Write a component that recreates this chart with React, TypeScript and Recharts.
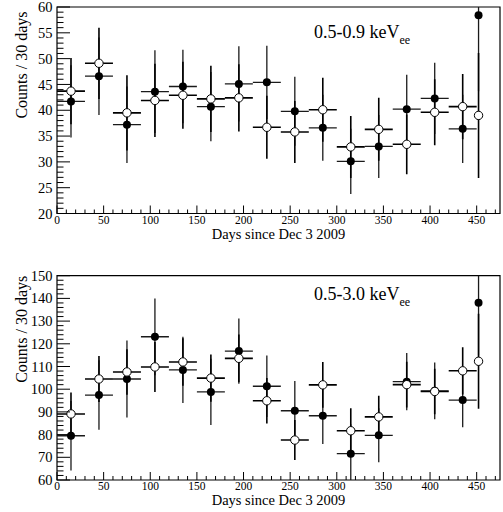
import { ComposedChart, ErrorBar, ReferenceArea, Scatter, XAxis, YAxis } from "recharts";

// bin centres (days since Dec 3 2009) and half bin widths
const days = [15, 45, 75, 105, 135, 165, 195, 225, 255, 285, 315, 345, 375, 405, 435, 452];
const dayHalfWidth = [15, 15, 15, 15, 15, 15, 15, 15, 15, 15, 15, 15, 15, 15, 15, 0];

// 0.5-0.9 keVee
const lowFilled = [41.7, 46.6, 37.2, 43.6, 44.6, 40.7, 45.1, 45.4, 39.8, 36.6, 30.1, 33.0, 40.2, 42.3, 36.4, 58.4];
const lowFilledErr = [7.0, 7.5, 7.4, 8.0, 7.1, 6.7, 7.3, 7.1, 6.7, 6.4, 6.3, 6.1, 6.7, 6.9, 6.6, 14.7];
const lowOpen = [43.7, 49.1, 39.5, 41.9, 42.9, 42.2, 42.4, 36.7, 35.8, 40.1, 32.9, 36.3, 33.4, 39.6, 40.7, 39.0];
const lowOpenErr = [6.4, 6.9, 7.3, 7.1, 6.5, 6.4, 6.5, 6.1, 6.0, 6.2, 6.0, 6.1, 5.8, 6.4, 6.3, 12.1];

// 0.5-3.0 keVee
const allFilled = [79.5, 97.4, 104.5, 123.1, 108.5, 98.8, 116.8, 101.3, 90.5, 88.3, 71.6, 79.7, 103.3, 99.3, 95.2, 138.1];
const allFilledErr = [15.3, 15.3, 17.0, 16.9, 14.6, 14.6, 14.4, 13.6, 13.1, 12.4, 13.0, 11.9, 12.6, 12.5, 12.0, 23.2];
const allOpen = [89.1, 104.5, 107.6, 109.8, 112.0, 104.9, 113.6, 94.9, 77.6, 101.9, 81.7, 87.8, 102.0, 99.0, 108.1, 112.3];
const allOpenErr = [9.5, 10.1, 10.0, 11.0, 10.5, 10.4, 10.5, 10.0, 8.8, 10.1, 9.9, 9.3, 10.1, 10.0, 10.4, 20.9];

const xMajorTicks = [0, 50, 100, 150, 200, 250, 300, 350, 400, 450];
const lowYTicks = [20, 25, 30, 35, 40, 45, 50, 55, 60];
const allYTicks = [60, 70, 80, 90, 100, 110, 120, 130, 140, 150];

const FONT = '"Liberation Serif", "DejaVu Serif", serif';
const X_GAP = 2;
const Y_GAP = 4.5;

// major ticks plus the minor subdivisions between them
function withMinor(major: number[], parts: number, extendTo?: number) {
  const step = (major[1] - major[0]) / parts;
  const end = extendTo ?? major[major.length - 1];
  const out: number[] = [];
  for (let v = major[0]; v <= end + 1e-9; v += step) out.push(Math.round(v * 100) / 100);
  return out;
}

function toPoints(y: number[], ey: number[]) {
  return days.map((x, i) => ({ x, ex: dayHalfWidth[i], y: y[i], ey: ey[i] }));
}

const FilledDot = (p: any) => <circle cx={p.cx} cy={p.cy} r={4} fill="#000" />;
const OpenDot = (p: any) => <circle cx={p.cx} cy={p.cy} r={4.2} fill="#fff" stroke="#000" strokeWidth={1} />;

function XTick(props: any) {
  const { x, y, payload } = props;
  const v = payload.value;
  const major = v % 50 === 0;
  const axisY = y - X_GAP;
  return (
    <g>
      <line x1={x} x2={x} y1={axisY} y2={axisY - (major ? 8 : 4)} stroke="#000" strokeWidth={1} />
      {major && (
        <text x={x} y={y} dy="0.71em" textAnchor="middle" fontFamily={FONT} fontSize={11.5} fill="#000">
          {v}
        </text>
      )}
    </g>
  );
}

function YTick(props: any) {
  const { x, y, payload, majorStep } = props;
  const v = payload.value;
  const major = Math.abs(v % majorStep) < 1e-6;
  const axisX = x + Y_GAP;
  return (
    <g>
      <line x1={axisX} x2={axisX + (major ? 13 : 6.5)} y1={y} y2={y} stroke="#000" strokeWidth={1} />
      {major && (
        <text x={x} y={y} dy="0.35em" textAnchor="end" fontFamily={FONT} fontSize={14.5} fill="#000">
          {v}
        </text>
      )}
    </g>
  );
}

type PanelProps = {
  id: string;
  filled: number[];
  filledErr: number[];
  open: number[];
  openErr: number[];
  yMajor: number[];
  yParts: number;
  range: string;
  marginTop: number;
  xAxisHeight: number;
  yTitleOffset: number;
  rangeOffset: number;
};

function Panel(p: PanelProps) {
  const filledPts = toPoints(p.filled, p.filledErr);
  const openPts = toPoints(p.open, p.openErr);
  const yMin = p.yMajor[0];
  const yMax = p.yMajor[p.yMajor.length - 1];
  const majorStep = p.yMajor[1] - p.yMajor[0];
  const clipId = `frame-${p.id}`;
  return (
    <div className={`panel-${p.id}`}>
      {/* error bars are cut at the frame, like the original */}
      <style>{`.panel-${p.id} .recharts-errorBar { clip-path: url(#${clipId}); }`}</style>
      <ComposedChart
        width={503}
        height={256}
        margin={{ top: p.marginTop, right: 3, bottom: 0, left: 0 }}
      >
        <XAxis
          type="number"
          dataKey="x"
          domain={[0, 475]}
          ticks={withMinor(xMajorTicks, 5, 470)}
          interval={0}
          tickSize={0}
          tickMargin={X_GAP}
          axisLine={false}
          allowDataOverflow
          height={p.xAxisHeight}
          tick={(t: any) => <XTick {...t} />}
          label={(l: any) => {
            const vb = l.viewBox;
            return (
              <text x={vb.x + vb.width / 2} y={vb.y + 25} textAnchor="middle" fontFamily={FONT} fontSize={14.5} fill="#000">
                Days since Dec 3 2009
              </text>
            );
          }}
        />
        <YAxis
          type="number"
          dataKey="y"
          domain={[yMin, yMax]}
          ticks={withMinor(p.yMajor, p.yParts)}
          interval={0}
          tickSize={0}
          tickMargin={Y_GAP}
          axisLine={false}
          allowDataOverflow
          width={57}
          tick={(t: any) => <YTick {...t} majorStep={majorStep} />}
          label={(l: any) => {
            const vb = l.viewBox;
            const cx = 26.7;
            const cy = vb.y + p.yTitleOffset;
            return (
              <text x={cx} y={cy} transform={`rotate(-90, ${cx}, ${cy})`} textAnchor="end" fontFamily={FONT} fontSize={16} fill="#000">
                Counts / 30 days
              </text>
            );
          }}
        />
        <ReferenceArea
          x1={0}
          x2={475}
          y1={yMin}
          y2={yMax}
          fill="none"
          fillOpacity={0}
          stroke="#000"
          strokeWidth={1.2}
          ifOverflow="visible"
          label={(l: any) => {
            const vb = l.viewBox;
            return (
              <g>
                <defs>
                  <clipPath id={clipId}>
                    <rect x={vb.x} y={vb.y} width={vb.width} height={vb.height} />
                  </clipPath>
                </defs>
                <text x={vb.x + 257} y={vb.y + p.rangeOffset} fontFamily={FONT} fontSize={18} fill="#000">
                  {p.range} keV
                  <tspan dy={6} fontSize={12}>ee</tspan>
                </text>
              </g>
            );
          }}
        />
        <Scatter data={filledPts} dataKey="y" shape={FilledDot} isAnimationActive={false}>
          <ErrorBar dataKey="ex" direction="x" width={0} stroke="#1a1a1a" strokeWidth={1.3} isAnimationActive={false} />
          <ErrorBar dataKey="ey" direction="y" width={0} stroke="#1a1a1a" strokeWidth={1.3} isAnimationActive={false} />
        </Scatter>
        <Scatter data={openPts} dataKey="y" shape={OpenDot} isAnimationActive={false}>
          <ErrorBar dataKey="ex" direction="x" width={0} stroke="#000" strokeWidth={1.6} isAnimationActive={false} />
          <ErrorBar dataKey="ey" direction="y" width={0} stroke="#000" strokeWidth={1.6} isAnimationActive={false} />
        </Scatter>
      </ComposedChart>
    </div>
  );
}

export default function App() {
  return (
    <div style={{ position: "absolute", left: 0, top: 0, width: 503, height: 512, background: "#fff" }}>
      <Panel
        id="low"
        filled={lowFilled}
        filledErr={lowFilledErr}
        open={lowOpen}
        openErr={lowOpenErr}
        yMajor={lowYTicks}
        yParts={5}
        range="0.5-0.9"
        marginTop={7}
        xAxisHeight={42.5}
        yTitleOffset={4.5}
        rangeOffset={31}
      />
      <Panel
        id="all"
        filled={allFilled}
        filledErr={allFilledErr}
        open={allOpen}
        openErr={allOpenErr}
        yMajor={allYTicks}
        yParts={5}
        range="0.5-3.0"
        marginTop={19.7}
        xAxisHeight={32}
        yTitleOffset={0}
        rangeOffset={24.3}
      />
    </div>
  );
}
